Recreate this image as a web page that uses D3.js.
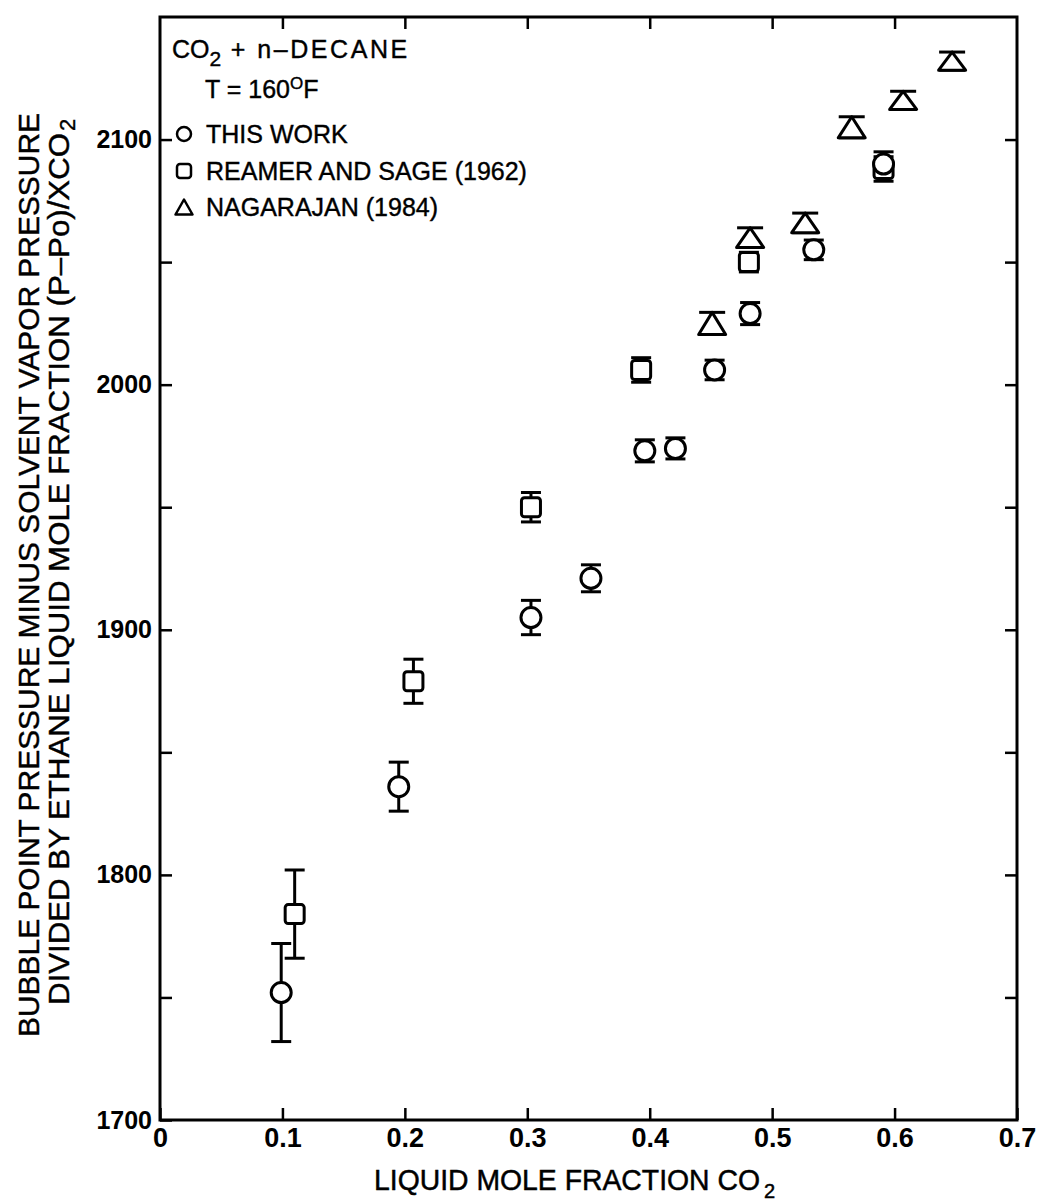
<!DOCTYPE html>
<html>
<head>
<meta charset="UTF-8">
<title>CO2 + n-decane</title>
<script src="https://cdn.jsdelivr.net/npm/d3@7"></script>
<style>
  body { margin: 0; background: #fff; }
  svg { display: block; }
</style>
</head>
<body>
<div id="root"></div>
<script>
// data
const thisWorkX   = [0.099, 0.195, 0.303, 0.352, 0.396, 0.421, 0.453, 0.482, 0.534, 0.591]
const thisWorkY   = [1752, 1836, 1905, 1921, 1973, 1974, 2006, 2029, 2055, 2090]
const thisWorkErr = [20, 10, 7, 5.5, 4.5, 4.3, 4, 4.5, 4, 5]

const reamerX   = [0.110, 0.207, 0.303, 0.393, 0.481, 0.591]
const reamerY   = [1784, 1879, 1950, 2006, 2050, 2088]
const reamerErr = [18, 9, 6, 5, 4, 5]

const nagarajanX   = [0.451, 0.482, 0.527, 0.565, 0.607, 0.647]
const nagarajanY   = [2025, 2060, 2066, 2105, 2116, 2132]
const nagarajanErr = [4.5, 4, 4, 4.3, 3.7, 3.7]

const xTicks = [0, 0.1, 0.2, 0.3, 0.4, 0.5, 0.6, 0.7]
const yTicks = [1700, 1750, 1800, 1850, 1900, 1950, 2000, 2050, 2100]

let width = 1041, height = 1203
let pLeft = 160, pRight = 1017, pTop = 17, pBottom = 1120
let font = "Liberation Sans, Arial, sans-serif"

let svg = d3.select("#root").append("svg").attr("width", width).attr("height", height)

let x = d3.scaleLinear().domain([0, 0.7]).range([pLeft, pRight])
let y = d3.scaleLinear().domain([1700, 2150]).range([pBottom, pTop])

// axes, ticks pointing inward
let gx = svg.append("g").attr("transform", "translate(0," + pBottom + ")")
  .call(d3.axisBottom(x).tickValues(xTicks).tickSize(-12).tickSizeOuter(0).tickPadding(8)
    .tickFormat(d => d === 0 ? "0" : d3.format(".1f")(d)))
gx.selectAll("text").attr("font-family", font).attr("font-size", 27)
  .attr("font-weight", "bold").attr("fill", "#000")

let gy = svg.append("g").attr("transform", "translate(" + pLeft + ",0)")
  .call(d3.axisLeft(y).tickValues(yTicks).tickSize(-12).tickSizeOuter(0).tickPadding(8)
    .tickFormat(d => d % 100 === 0 ? d : ""))
gy.selectAll("text").attr("font-family", font).attr("font-size", 25)
  .attr("font-weight", "bold").attr("fill", "#000")

svg.append("g").attr("transform", "translate(0," + pTop + ")")
  .call(d3.axisTop(x).tickValues(xTicks.slice(1, 7)).tickSize(-12).tickSizeOuter(0).tickFormat(""))

svg.append("g").attr("transform", "translate(" + pRight + ",0)")
  .call(d3.axisRight(y).tickValues(yTicks.slice(1)).tickSize(-12).tickSizeOuter(0).tickFormat(""))

svg.selectAll(".domain").remove()
svg.selectAll(".tick line").attr("stroke", "#000").attr("stroke-width", 2.5)

svg.append("rect").attr("x", pLeft).attr("y", pTop).attr("width", pRight - pLeft).attr("height", pBottom - pTop)
  .attr("fill", "none").attr("stroke", "#000").attr("stroke-width", 3)

// axis titles
let xt = svg.append("text").attr("x", 374).attr("y", 1190)
  .attr("font-family", font).attr("font-size", 30)
  .attr("stroke", "#000").attr("stroke-width", 0.5)
xt.append("tspan").attr("textLength", 386).attr("lengthAdjust", "spacingAndGlyphs")
  .text("LIQUID MOLE FRACTION CO")
xt.append("tspan").attr("dx", 4).attr("dy", 8).attr("font-size", 20).text("2")

svg.append("text").attr("transform", "translate(39,1037) rotate(-90)")
  .attr("font-family", font).attr("font-size", 29)
  .attr("stroke", "#000").attr("stroke-width", 0.4)
  .attr("textLength", 924).attr("lengthAdjust", "spacingAndGlyphs")
  .text("BUBBLE POINT PRESSURE MINUS SOLVENT VAPOR PRESSURE")

let yt2 = svg.append("text").attr("transform", "translate(69,1005) rotate(-90)")
  .attr("font-family", font).attr("font-size", 29)
  .attr("stroke", "#000").attr("stroke-width", 0.4)
yt2.append("tspan").attr("textLength", 872).attr("lengthAdjust", "spacingAndGlyphs")
  .text("DIVIDED BY ETHANE LIQUID MOLE FRACTION (P\u2013Po)/XCO")
yt2.append("tspan").attr("dx", 2).attr("dy", 6).attr("font-size", 22).text("2")

// marker shapes
function circleMark(g, cx, cy, r) {
  g.append("circle").attr("cx", cx).attr("cy", cy).attr("r", r)
    .attr("fill", "#fff").attr("stroke", "#000").attr("stroke-width", 3)
}
function squareMark(g, cx, cy, s) {
  g.append("rect").attr("x", cx - s / 2).attr("y", cy - s / 2).attr("width", s).attr("height", s)
    .attr("rx", 3).attr("fill", "#fff").attr("stroke", "#000").attr("stroke-width", 3)
}
function triMark(g, cx, cy, w, h) {
  g.append("path").attr("d", "M" + cx + "," + (cy - h / 2) + "L" + (cx + w / 2) + "," + (cy + h / 2) +
    "L" + (cx - w / 2) + "," + (cy + h / 2) + "Z")
    .attr("fill", "#fff").attr("stroke", "#000").attr("stroke-width", 3).attr("stroke-linejoin", "round")
}

function errBar(g, xv, yv, e, cap) {
  let cx = x(xv), y0 = y(yv + e), y1 = y(yv - e)
  g.append("line").attr("x1", cx).attr("x2", cx).attr("y1", y0).attr("y2", y1)
  g.append("line").attr("x1", cx - cap / 2).attr("x2", cx + cap / 2).attr("y1", y0).attr("y2", y0)
  g.append("line").attr("x1", cx - cap / 2).attr("x2", cx + cap / 2).attr("y1", y1).attr("y2", y1)
}

let bars = svg.append("g").attr("stroke", "#000").attr("stroke-width", 3)
let marks = svg.append("g")

reamerX.forEach((d, i) => {
  errBar(bars, d, reamerY[i], reamerErr[i], 20)
  squareMark(marks, x(d), y(reamerY[i]), 19)
})
thisWorkX.forEach((d, i) => {
  errBar(bars, d, thisWorkY[i], thisWorkErr[i], 20)
  circleMark(marks, x(d), y(thisWorkY[i]), 10)
})
nagarajanX.forEach((d, i) => {
  errBar(bars, d, nagarajanY[i], nagarajanErr[i], 26)
  let h = y(nagarajanY[i] - nagarajanErr[i]) - y(nagarajanY[i] + nagarajanErr[i])
  triMark(marks, x(d), y(nagarajanY[i]), 27, h)
})

// legend
let leg = svg.append("g").attr("font-family", font).attr("font-size", 25)
  .attr("fill", "#000").attr("stroke", "#000").attr("stroke-width", 0.4)
let l1 = leg.append("text").attr("x", 172).attr("y", 58)
l1.append("tspan").text("CO")
l1.append("tspan").attr("dy", 8).attr("font-size", 21).text("2")
l1.append("tspan").attr("dy", -8).attr("textLength", 186).attr("lengthAdjust", "spacing")
  .text(" +  n\u2013DECANE")
let l2 = leg.append("text").attr("x", 205).attr("y", 98)
l2.append("tspan").text("T = 160")
l2.append("tspan").attr("dy", -9).attr("font-size", 17).text("O")
l2.append("tspan").attr("dy", 9).text("F")

let legendRows = ["THIS WORK", "REAMER AND SAGE (1962)", "NAGARAJAN (1984)"]
let legendY = [143, 180, 216]
legendRows.forEach((t, i) => {
  leg.append("text").attr("x", 206).attr("y", legendY[i]).text(t)
  let cy = legendY[i] - 9
  if (i === 0) circleMark(leg, 184, cy, 7)
  if (i === 1) squareMark(leg, 184, cy, 14)
  if (i === 2) triMark(leg, 184, cy, 17, 15)
})
leg.selectAll("circle, rect, path").attr("stroke-width", 2.5)
</script>
</body>
</html>
